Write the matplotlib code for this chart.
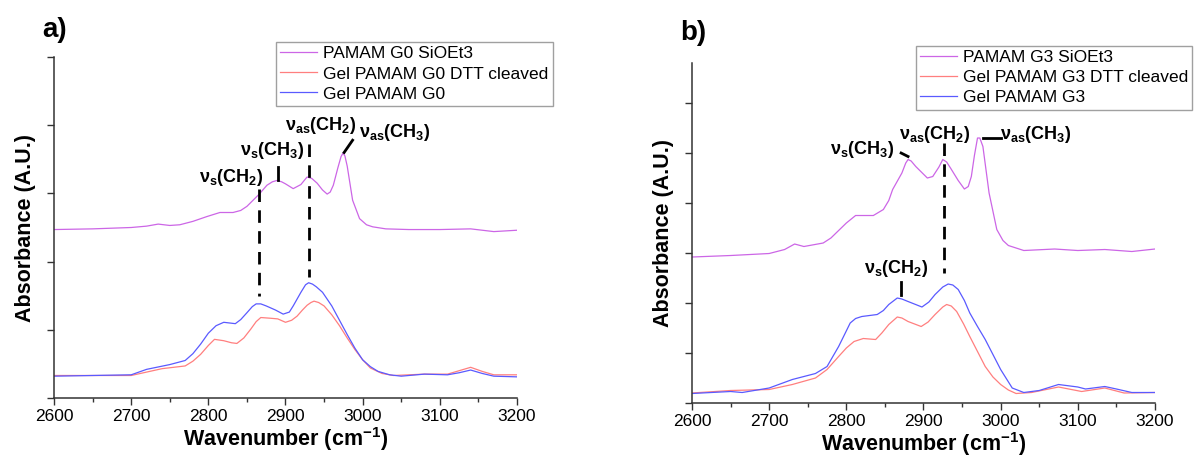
import matplotlib
matplotlib.use("Agg")
import matplotlib.pyplot as plt

plt.rcParams["font.family"] = ["Liberation Sans", "DejaVu Sans"]
plt.rcParams["mathtext.fontset"] = "custom"
plt.rcParams["mathtext.rm"] = "Liberation Sans"
plt.rcParams["mathtext.bf"] = "Liberation Sans:bold"

# ---- panel a) PAMAM G0 ----
purple_a_x = [2600, 2650, 2700, 2720, 2735, 2750, 2763, 2780, 2798, 2815, 2832, 2842, 2850, 2858,
              2866, 2876, 2883, 2889, 2895, 2900, 2910, 2920, 2925, 2928, 2934, 2941, 2948, 2954,
              2958, 2962, 2968, 2972, 2974.5, 2977, 2980, 2987, 2996, 3005, 3013, 3030, 3060, 3100,
              3140, 3170, 3200]
purple_a_y = [2.47, 2.48, 2.50, 2.52, 2.55, 2.53, 2.54, 2.59, 2.66, 2.72, 2.72, 2.75, 2.81, 2.90,
              2.99, 3.12, 3.17, 3.19, 3.17, 3.14, 3.07, 3.13, 3.20, 3.24, 3.22, 3.15, 3.05, 2.99,
              3.02, 3.12, 3.38, 3.54, 3.59, 3.55, 3.40, 2.90, 2.63, 2.54, 2.51, 2.48, 2.47, 2.47,
              2.48, 2.44, 2.46]

blue_a_x = [2600, 2650, 2700, 2720, 2750, 2770, 2780, 2790, 2800, 2810, 2820, 2835, 2842, 2850,
            2857, 2862, 2868, 2875, 2887, 2897, 2905, 2910, 2920, 2926, 2930, 2935, 2940, 2948,
            2960, 2970, 2980, 2990, 3000, 3010, 3020, 3035, 3050, 3080, 3110, 3125, 3140, 3155,
            3170, 3200]
blue_a_y = [0.32, 0.33, 0.34, 0.42, 0.49, 0.55, 0.65, 0.79, 0.95, 1.06, 1.11, 1.09, 1.15, 1.25,
            1.34, 1.38, 1.38, 1.35, 1.29, 1.23, 1.26, 1.35, 1.55, 1.66, 1.69, 1.67, 1.63, 1.55,
            1.35, 1.14, 0.93, 0.73, 0.56, 0.46, 0.39, 0.34, 0.32, 0.35, 0.34, 0.37, 0.41, 0.36,
            0.32, 0.31]

red_a_x = [2600, 2650, 2700, 2740, 2770, 2780, 2790, 2800, 2808, 2820, 2830, 2837, 2846, 2855,
           2862, 2868, 2880, 2890, 2900, 2908, 2915, 2922, 2928, 2933, 2937, 2943, 2950, 2960,
           2970, 2980, 2990, 3000, 3010, 3025, 3040, 3080, 3110, 3125, 3140, 3155, 3170, 3200]
red_a_y = [0.33, 0.33, 0.33, 0.43, 0.47, 0.54, 0.64, 0.77, 0.86, 0.84, 0.81, 0.80, 0.88, 1.01,
           1.12, 1.18, 1.17, 1.16, 1.11, 1.14, 1.20, 1.29, 1.36, 1.40, 1.42, 1.40, 1.35, 1.22,
           1.06, 0.88, 0.71, 0.56, 0.44, 0.36, 0.33, 0.35, 0.35, 0.40, 0.45, 0.39, 0.34, 0.34]

labels_a = ["PAMAM G0 SiOEt3", "Gel PAMAM G0 DTT cleaved", "Gel PAMAM G0"]

# ---- panel b) PAMAM G3 ----
purple_b_x = [2600, 2650, 2700, 2720, 2733, 2745, 2770, 2780, 2790, 2800, 2812, 2835, 2848, 2855,
              2860, 2872, 2877, 2880, 2884, 2890, 2905, 2912, 2920, 2925, 2930, 2935, 2945, 2953,
              2958, 2962, 2966, 2970, 2973, 2977, 2985, 2995, 3003, 3010, 3030, 3070, 3100, 3135,
              3170, 3200]
purple_b_y = [2.92, 2.95, 2.99, 3.07, 3.18, 3.13, 3.20, 3.30, 3.45, 3.60, 3.75, 3.75, 3.87, 4.05,
              4.27, 4.60, 4.80, 4.87, 4.84, 4.73, 4.50, 4.53, 4.72, 4.87, 4.82, 4.70, 4.45, 4.28,
              4.33, 4.53, 4.95, 5.30, 5.30, 5.13, 4.20, 3.47, 3.25, 3.15, 3.05, 3.08, 3.05, 3.07,
              3.03, 3.08]

blue_b_x = [2600, 2650, 2665, 2700, 2730, 2760, 2775, 2790, 2798, 2805, 2812, 2820, 2840, 2848,
            2855, 2866, 2872, 2880, 2898, 2907, 2915, 2925, 2932, 2938, 2945, 2953, 2960, 2970,
            2980, 2990, 3000, 3015, 3030, 3050, 3075, 3100, 3110, 3135, 3150, 3170, 3200]
blue_b_y = [0.19, 0.23, 0.21, 0.30, 0.47, 0.59, 0.73, 1.13, 1.38, 1.60, 1.69, 1.73, 1.77, 1.85,
            1.97, 2.10, 2.08, 2.03, 1.92, 2.02, 2.17, 2.32, 2.38, 2.36, 2.27, 2.05, 1.80, 1.53,
            1.27, 0.97, 0.67, 0.30, 0.21, 0.25, 0.37, 0.32, 0.28, 0.33, 0.28, 0.21, 0.21]

red_b_x = [2600, 2650, 2700, 2730, 2760, 2775, 2790, 2800, 2810, 2822, 2838, 2846, 2855, 2866,
           2872, 2880, 2897, 2906, 2915, 2925, 2930, 2936, 2943, 2952, 2960, 2970, 2980, 2990,
           3000, 3010, 3020, 3040, 3075, 3105, 3135, 3160, 3200]
red_b_y = [0.20, 0.25, 0.27, 0.37, 0.50, 0.67, 0.93, 1.10, 1.23, 1.29, 1.27, 1.40, 1.57, 1.72,
           1.70, 1.63, 1.53, 1.62, 1.77, 1.92, 1.97, 1.94, 1.83, 1.58, 1.33, 1.03, 0.73, 0.52,
           0.37, 0.26, 0.19, 0.21, 0.32, 0.23, 0.30, 0.20, 0.21]

labels_b = ["PAMAM G3 SiOEt3", "Gel PAMAM G3 DTT cleaved", "Gel PAMAM G3"]

c_purple = "#cc66e6"
c_red = "#ff7f7f"
c_blue = "#5a5aff"

fig = plt.figure(figsize=(11.95, 4.59), dpi=100)
ax_a = fig.add_axes([0.0452, 0.1329, 0.3874, 0.7429])
ax_b = fig.add_axes([0.5791, 0.1220, 0.3874, 0.7407])

lbl_kw = dict(fontsize=13, ha="center", va="center")
dash = (0, (4.5, 3))
leg_kw = dict(loc="upper left", fontsize=12.5, frameon=True, fancybox=False, edgecolor="#a0a0a0",
              framealpha=1, handlelength=2.1, handletextpad=0.35, labelspacing=0.28,
              borderpad=0.25, borderaxespad=0)


def style_axes(ax, ytop):
    ax.set_xlim(2600, 3200)
    ax.set_ylim(0, ytop)
    ax.set_xticks(range(2600, 3201, 100))
    ax.set_xticks(range(2650, 3200, 100), minor=True)
    ax.set_yticks(range(0, int(ytop) + 1))
    ax.set_yticklabels([])
    ax.spines["top"].set_visible(False)
    ax.spines["right"].set_visible(False)
    for s in ("left", "bottom"):
        ax.spines[s].set_linewidth(1.1)
        ax.spines[s].set_color("#333333")
    ax.tick_params(axis="both", which="major", direction="out", length=5, width=1,
                   labelsize=12.5, colors="#333333", labelcolor="black", pad=3)
    ax.tick_params(axis="x", which="minor", direction="out", length=3, width=1, colors="#333333")
    ax.set_xlabel(r"Wavenumber (cm$^{\mathbf{-1}}$)", fontsize=15.5, fontweight="bold", labelpad=1)
    ax.set_ylabel("Absorbance (A.U.)", fontsize=15.5, fontweight="bold", labelpad=5)


# panel a
ax_a.plot(purple_a_x, purple_a_y, color=c_purple, lw=0.9, label=labels_a[0])
ax_a.plot(red_a_x, red_a_y, color=c_red, lw=0.9, label=labels_a[1])
ax_a.plot(blue_a_x, blue_a_y, color=c_blue, lw=0.9, label=labels_a[2])
style_axes(ax_a, 5)
ax_a.plot([2866, 2866], [3.07, 1.50], color="black", lw=2, linestyle=dash)
ax_a.plot([2931, 2931], [3.72, 1.77], color="black", lw=2, linestyle=dash)
ax_a.plot([2890, 2890], [3.39, 3.19], color="black", lw=2)
ax_a.plot([2976, 2987], [3.60, 3.78], color="black", lw=2)
ax_a.text(2830, 3.24, r"$\mathbf{ν_{s}(CH_{2})}$", **lbl_kw)
ax_a.text(2883, 3.63, r"$\mathbf{ν_{s}(CH_{3})}$", **lbl_kw)
ax_a.text(2946, 4.0, r"$\mathbf{ν_{as}(CH_{2})}$", **lbl_kw)
ax_a.text(3041, 3.9, r"$\mathbf{ν_{as}(CH_{3})}$", **lbl_kw)
fig.legend(*ax_a.get_legend_handles_labels(), bbox_to_anchor=(0.231, 0.9085), **leg_kw)
fig.text(0.035, 0.92, "a)", fontsize=20, fontweight="bold", ha="left", va="baseline")

# panel b
ax_b.plot(purple_b_x, purple_b_y, color=c_purple, lw=0.9, label=labels_b[0])
ax_b.plot(red_b_x, red_b_y, color=c_red, lw=0.9, label=labels_b[1])
ax_b.plot(blue_b_x, blue_b_y, color=c_blue, lw=0.9, label=labels_b[2])
style_axes(ax_b, 6.8)
ax_b.plot([2927, 2927], [5.2, 2.6], color="black", lw=2, linestyle=dash)
ax_b.plot([2871, 2871], [2.43, 2.17], color="black", lw=2)
ax_b.plot([2871, 2880], [5.0, 4.93], color="black", lw=2)
ax_b.plot([2977, 3001], [5.3, 5.3], color="black", lw=2)
ax_b.text(2820, 5.07, r"$\mathbf{ν_{s}(CH_{3})}$", **lbl_kw)
ax_b.text(2914, 5.37, r"$\mathbf{ν_{as}(CH_{2})}$", **lbl_kw)
ax_b.text(3046, 5.37, r"$\mathbf{ν_{as}(CH_{3})}$", **lbl_kw)
ax_b.text(2864, 2.7, r"$\mathbf{ν_{s}(CH_{2})}$", **lbl_kw)
fig.legend(*ax_b.get_legend_handles_labels(), bbox_to_anchor=(0.7665, 0.90), **leg_kw)
fig.text(0.569, 0.913, "b)", fontsize=20, fontweight="bold", ha="left", va="baseline")

fig.savefig("out.png", dpi=100)
